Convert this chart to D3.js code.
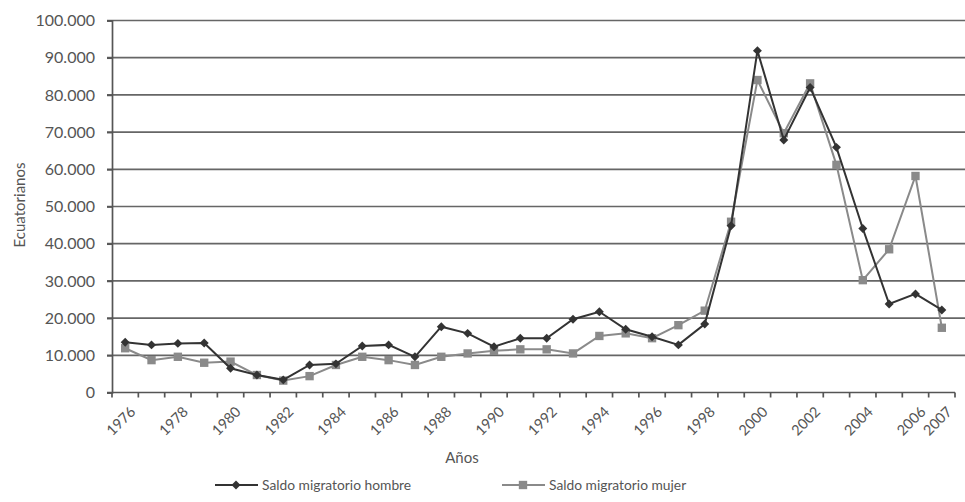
<!DOCTYPE html>
<html>
<head>
<meta charset="utf-8">
<script src="https://cdn.jsdelivr.net/npm/d3@7"></script>
<style>
	body { margin: 0; background: #fff; }
	svg text { font-family: Lato, "Open Sans", sans-serif; fill: #555; }
</style>
</head>
<body>
<svg id="chart" width="965" height="502"></svg>
<script>
"use strict";

const years = d3.range(1976, 2008);
const hombre = [13500, 12800, 13200, 13300, 6500, 4700, 3400, 7400, 7700, 12500,
	12800, 9600, 17700, 15900, 12300, 14600, 14600, 19700, 21700, 17000,
	15000, 12800, 18400, 44800, 91900, 67900, 82000, 65900, 44100, 23800,
	26500, 22200];
const mujer = [11900, 8700, 9600, 8000, 8300, 4700, 3200, 4400, 7400, 9600,
	8700, 7400, 9600, 10500, 11200, 11600, 11600, 10500, 15200, 15900,
	14600, 18100, 22000, 45900, 84000, 69700, 83100, 61200, 30200, 38500,
	58200, 17400];
const yTicks = d3.range(0, 100001, 10000);
const xLabels = [1976, 1978, 1980, 1982, 1984, 1986, 1988, 1990, 1992, 1994,
	1996, 1998, 2000, 2002, 2004, 2006, 2007];

const svg = d3.select("#chart");
const plotLeft = 112, plotRight = 955, plotTop = 20.5, plotBottom = 392.5;

const x = d3.scaleBand().domain(years).range([plotLeft, plotRight]);
const y = d3.scaleLinear().domain([0, 100000]).range([plotBottom, plotTop]);
const cx = (d) => x(d) + x.bandwidth() / 2;
const fmt = (v) => d3.format(",")(v).replace(/,/g, ".");

// grid lines
svg.append("g").selectAll("line").data(yTicks.filter((d) => d > 0)).join("line")
	.attr("x1", plotLeft - 5).attr("x2", 965)
	.attr("y1", (d) => y(d)).attr("y2", (d) => y(d))
	.attr("stroke", "#666").attr("stroke-width", 1.7);

// y axis
const yAxis = svg.append("g").attr("transform", `translate(${plotLeft},0)`)
	.call(d3.axisLeft(y).tickValues(yTicks).tickFormat(fmt).tickSize(5).tickPadding(12));
yAxis.select(".domain").attr("stroke", "#555").attr("stroke-width", 1.7);
yAxis.selectAll(".tick line").attr("stroke", "#555").attr("stroke-width", 1.7);
yAxis.selectAll("text").style("font-size", "16px").style("fill", "#555");

// x axis
const xAxis = svg.append("g").attr("transform", `translate(0,${plotBottom})`);
xAxis.append("line").attr("x1", plotLeft - 5).attr("x2", plotRight)
	.attr("stroke", "#555").attr("stroke-width", 1.7);
xAxis.selectAll("line.tick").data(years.concat([2008])).join("line")
	.attr("class", "tick")
	.attr("x1", (d) => d === 2008 ? plotRight : x(d)).attr("x2", (d) => d === 2008 ? plotRight : x(d))
	.attr("y1", 0).attr("y2", 5)
	.attr("stroke", "#555").attr("stroke-width", 1.7);
xAxis.selectAll("text").data(xLabels).join("text")
	.attr("transform", (d) => `translate(${cx(d) + 4},13) rotate(-45)`)
	.attr("text-anchor", "end").attr("dy", "0.7em")
	.style("font-size", "14.5px")
	.text((d) => d);

// axis titles
svg.append("text").attr("x", 462).attr("y", 463).attr("text-anchor", "middle")
	.style("font-size", "15px").text("Años");
svg.append("text").attr("transform", "translate(25,205) rotate(-90)")
	.attr("text-anchor", "middle").style("font-size", "15px").text("Ecuatorianos");

// series (diamond = square turned 45 degrees)
const series = [
	{name: "Saldo migratorio hombre", values: hombre, color: "#333", size: 40, turn: 45, legendX: 215},
	{name: "Saldo migratorio mujer", values: mujer, color: "#8a8a8a", size: 70, turn: 0, legendX: 502}
];

const line = d3.line().x((d, i) => cx(years[i])).y((d) => y(d));

// draw mujer first so hombre sits on top like the reference
for (const s of series.slice().reverse()) {
	svg.append("path").datum(s.values)
		.attr("d", line).attr("fill", "none")
		.attr("stroke", s.color).attr("stroke-width", 2);
	svg.append("g").selectAll("path").data(s.values).join("path")
		.attr("transform", (d, i) => `translate(${cx(years[i])},${y(d)}) rotate(${s.turn})`)
		.attr("d", d3.symbol().type(d3.symbolSquare).size(s.size))
		.attr("fill", s.color);
}

// legend
for (const s of series) {
	const g = svg.append("g").attr("transform", `translate(${s.legendX},485)`);
	g.append("line").attr("x1", 0).attr("x2", 43)
		.attr("stroke", s.color).attr("stroke-width", 2);
	g.append("path").attr("transform", `translate(21,0) rotate(${s.turn})`)
		.attr("d", d3.symbol().type(d3.symbolSquare).size(s.size)).attr("fill", s.color);
	g.append("text").attr("x", 47).attr("dy", "0.35em")
		.style("font-size", "13.8px").text(s.name);
}
</script>
</body>
</html>
